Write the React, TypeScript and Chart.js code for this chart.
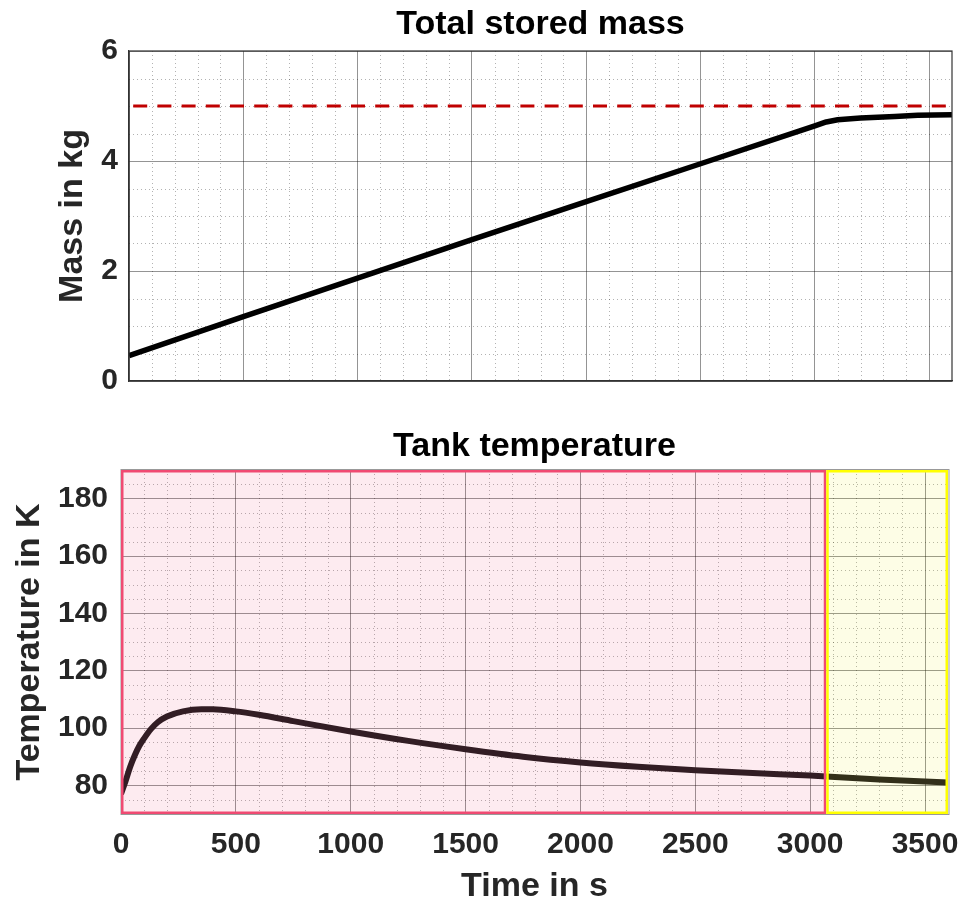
import React, { useEffect, useRef } from 'react';
import { Chart, registerables } from 'chart.js';

Chart.register(...registerables);

// ---- data ----
const massTime = [0, 500, 1000, 1500, 2000, 2500, 3000, 3050, 3100, 3200, 3350, 3450, 3600];
const massKg = [0.46, 1.17, 1.87, 2.57, 3.26, 3.95, 4.64, 4.71, 4.75, 4.78, 4.81, 4.83, 4.84];
const capacityTime = [0, 3600];
const capacityKg = [5, 5];

const tempTime = [0, 20, 40, 60, 80, 100, 130, 160, 200, 270, 350, 400, 500, 600, 750, 1000, 1250, 1500, 1750, 2000, 2250, 2500, 2750, 3000, 3070, 3300, 3600];
const tempK = [77.0, 81.5, 86.5, 90.5, 93.8, 96.3, 99.6, 102.0, 104.0, 105.8, 106.5, 106.5, 105.8, 104.6, 102.4, 98.8, 95.5, 92.6, 90.0, 88.0, 86.5, 85.3, 84.3, 83.4, 83.1, 82.0, 81.0];

const timeTicks = [0, 500, 1000, 1500, 2000, 2500, 3000, 3500];
const massTicks = [0, 2, 4, 6];
const tempTicks = [80, 100, 120, 140, 160, 180];

const phaseStart = [0, 3070];
const phaseEnd = [3070, 3600];
const phaseFill = ['rgba(235,55,105,0.10)', 'rgba(235,235,5,0.10)'];
const phaseBorder = ['#f04a72', '#ffff00'];

// ---- styles ----
const FAMILY = "'Liberation Sans', Arial, Helvetica, sans-serif";
const GRID = 'rgba(0,0,0,0.42)';
const MINOR = 'rgba(0,0,0,0.30)';
const TEXT = '#262626';

function pts(xs: number[], ys: number[]) {
  return xs.map((x, i) => ({ x, y: ys[i] }));
}

function minorGridPlugin(id: string, xStep: number, yStep: number) {
  return {
    id,
    beforeDatasetsDraw(chart: any) {
      const { ctx, chartArea: a, scales } = chart;
      const xs = scales.x;
      const ys = scales.y;
      ctx.save();
      ctx.beginPath();
      ctx.rect(a.left, a.top, a.right - a.left, a.bottom - a.top);
      ctx.clip();
      ctx.strokeStyle = MINOR;
      ctx.lineWidth = 1;
      ctx.setLineDash([1, 3]);
      ctx.beginPath();
      const xMajor = xs.ticks.map((t: any) => t.value);
      for (let v = xs.min + xStep; v < xs.max - 1e-9; v += xStep) {
        if (xMajor.some((m: number) => Math.abs(m - v) < 1e-6)) continue;
        const px = Math.round(xs.getPixelForValue(v)) + 0.5;
        ctx.moveTo(px, a.top);
        ctx.lineTo(px, a.bottom);
      }
      const yMajor = ys.ticks.map((t: any) => t.value);
      for (let v = ys.min + yStep; v < ys.max - 1e-9; v += yStep) {
        if (yMajor.some((m: number) => Math.abs(m - v) < 1e-6)) continue;
        const py = Math.round(ys.getPixelForValue(v)) + 0.5;
        ctx.moveTo(a.left, py);
        ctx.lineTo(a.right, py);
      }
      ctx.stroke();
      ctx.restore();
    },
  };
}

function boxPlugin(id: string, color: string, width: number) {
  return {
    id,
    afterDatasetsDraw(chart: any) {
      const { ctx, chartArea: a } = chart;
      ctx.save();
      ctx.strokeStyle = color;
      ctx.lineWidth = width;
      ctx.strokeRect(a.left, a.top, a.right - a.left, a.bottom - a.top);
      ctx.restore();
    },
  };
}

const phasePlugin = {
  id: 'phases',
  afterDatasetsDraw(chart: any) {
    const { ctx, chartArea: a, scales } = chart;
    const xs = scales.x;
    ctx.save();
    for (let i = 0; i < phaseStart.length; i++) {
      const x0 = xs.getPixelForValue(phaseStart[i]);
      const x1 = xs.getPixelForValue(phaseEnd[i]);
      ctx.fillStyle = phaseFill[i];
      ctx.fillRect(x0, a.top, x1 - x0, a.bottom - a.top);
    }
    ctx.strokeStyle = 'rgba(0,0,0,0.4)';
    ctx.lineWidth = 1;
    ctx.strokeRect(a.left, a.top - 0.5, a.right - a.left + 1, a.bottom - a.top + 1);
    const lw = 2.5;
    for (let i = 0; i < phaseStart.length; i++) {
      const x0 = xs.getPixelForValue(phaseStart[i]);
      const x1 = xs.getPixelForValue(phaseEnd[i]);
      ctx.strokeStyle = phaseBorder[i];
      ctx.lineWidth = lw;
      ctx.strokeRect(x0 + lw / 2, a.top + lw / 2, x1 - x0 - lw, a.bottom - a.top - lw);
    }
    ctx.restore();
  },
};

function fixedTicks(values: number[]) {
  return (scale: any) => {
    scale.ticks = values.map((v) => ({ value: v }));
  };
}

const plainLabel = (v: any) => String(v);

const tickFont = { family: FAMILY, size: 30, weight: 'bold' as const };
const titleFont = { family: FAMILY, size: 34, weight: 'bold' as const, lineHeight: 1 };

export default function App() {
  const topRef = useRef<HTMLCanvasElement>(null);
  const botRef = useRef<HTMLCanvasElement>(null);

  useEffect(() => {
    const top = new Chart(topRef.current as HTMLCanvasElement, {
      type: 'line',
      data: {
        datasets: [
          {
            data: pts(capacityTime, capacityKg),
            borderColor: '#c00000',
            borderWidth: 3.2,
            borderDash: [14, 10.2],
            borderDashOffset: 20,
            pointRadius: 0,
            tension: 0,
          },
          {
            data: pts(massTime, massKg),
            borderColor: '#000000',
            borderWidth: 5.5,
            pointRadius: 0,
            tension: 0,
            borderJoinStyle: 'round',
          },
        ],
      },
      options: {
        animation: false,
        responsive: false,
        maintainAspectRatio: false,
        devicePixelRatio: 1,
        layout: { padding: { left: 0, right: 11, top: 0, bottom: 0 } },
        plugins: {
          legend: { display: false },
          tooltip: { enabled: false },
          title: {
            display: true,
            fullSize: false,
            text: 'Total stored mass',
            color: '#000',
            font: titleFont,
            padding: { top: 7.5, bottom: 9.5 },
          },
        },
        scales: {
          x: {
            type: 'linear',
            min: 0,
            max: 3600,
            afterBuildTicks: fixedTicks(timeTicks),
            afterFit: (s: any) => { s.height = 19; s.paddingLeft = 0; s.paddingRight = 0; },
            ticks: { display: false },
            grid: { color: GRID, lineWidth: 1, drawTicks: false },
            border: { display: true, color: '#333', width: 1.2 },
          },
          y: {
            type: 'linear',
            min: 0,
            max: 6,
            afterBuildTicks: fixedTicks(massTicks),
            afterFit: (s: any) => { s.width = 129; s.paddingTop = 0; s.paddingBottom = 0; },
            ticks: { padding: 11, color: TEXT, font: tickFont, callback: plainLabel },
            grid: { color: GRID, lineWidth: 1, drawTicks: false },
            border: { display: true, color: '#333', width: 1.2 },
            title: {
              display: true,
              text: 'Mass in kg',
              color: TEXT,
              font: titleFont,
              padding: { top: 56, bottom: 0 },
            },
          },
        },
      } as any,
      plugins: [minorGridPlugin('minorTop', 100, 0.5), boxPlugin('boxTop', '#333', 1.2)],
    });

    const bot = new Chart(botRef.current as HTMLCanvasElement, {
      type: 'line',
      data: {
        datasets: [
          {
            data: pts(tempTime, tempK),
            borderColor: '#1e1a1c',
            borderWidth: 6,
            pointRadius: 0,
            cubicInterpolationMode: 'monotone',
          },
        ],
      },
      options: {
        animation: false,
        responsive: false,
        maintainAspectRatio: false,
        devicePixelRatio: 1,
        layout: { padding: { left: 0, right: 15, top: 0, bottom: 0 } },
        plugins: {
          legend: { display: false },
          tooltip: { enabled: false },
          title: {
            display: true,
            fullSize: false,
            text: 'Tank temperature',
            color: '#000',
            font: titleFont,
            padding: { top: 29.5, bottom: 6.5 },
          },
        },
        scales: {
          x: {
            type: 'linear',
            min: 0,
            max: 3600,
            afterBuildTicks: fixedTicks(timeTicks),
            afterFit: (s: any) => { s.height = 90; s.paddingLeft = 0; s.paddingRight = 0; },
            ticks: { padding: 12.5, color: TEXT, font: tickFont, maxRotation: 0, callback: plainLabel },
            grid: { color: GRID, lineWidth: 1, drawTicks: false },
            border: { display: false },
            title: {
              display: true,
              text: 'Time in s',
              color: TEXT,
              font: titleFont,
              padding: { top: 0, bottom: 0 },
            },
          },
          y: {
            type: 'linear',
            min: 70,
            max: 190,
            afterBuildTicks: fixedTicks(tempTicks),
            afterFit: (s: any) => { s.width = 121; s.paddingTop = 0; s.paddingBottom = 0; },
            ticks: { padding: 13, color: TEXT, font: tickFont, callback: plainLabel },
            grid: { color: GRID, lineWidth: 1, drawTicks: false },
            border: { display: false },
            title: {
              display: true,
              text: 'Temperature in K',
              color: TEXT,
              font: titleFont,
              padding: { top: 13, bottom: 0 },
            },
          },
        },
      } as any,
      plugins: [minorGridPlugin('minorBot', 100, 5), phasePlugin],
    });

    return () => {
      top.destroy();
      bot.destroy();
    };
  }, []);

  return (
    <div style={{ position: 'absolute', left: 0, top: 0, width: 963, height: 904, background: '#ffffff' }}>
      <canvas
        ref={topRef}
        width={963}
        height={400}
        style={{ position: 'absolute', left: 0, top: 0, width: 963, height: 400, display: 'block' }}
      />
      <canvas
        ref={botRef}
        width={963}
        height={504}
        style={{ position: 'absolute', left: 0, top: 400, width: 963, height: 504, display: 'block' }}
      />
    </div>
  );
}
